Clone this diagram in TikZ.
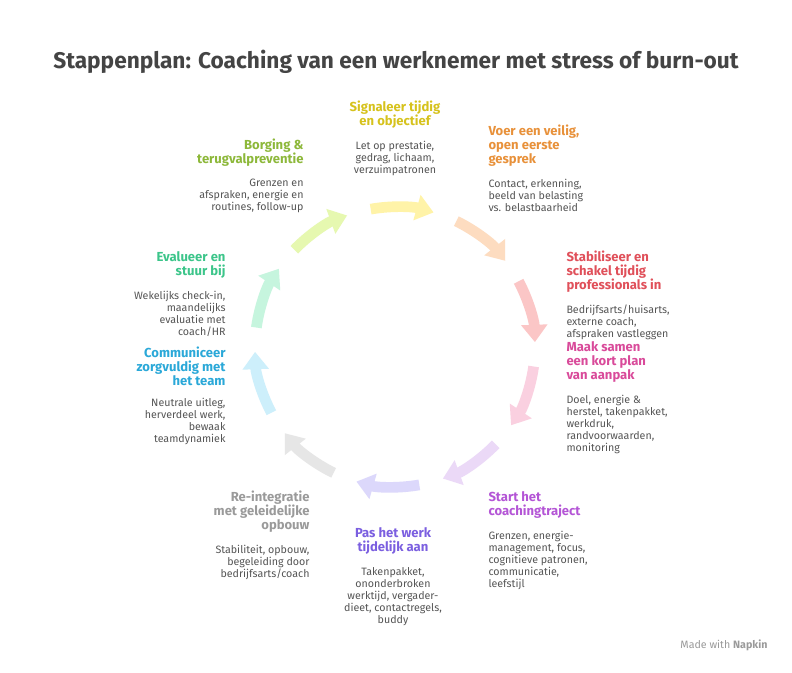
\documentclass[tikz,border=0pt]{standalone}
\usepackage{fontspec}
\setmainfont{Fira Sans}
\usetikzlibrary{positioning,arrows.meta,calc}
\definecolor{cYel}{HTML}{D6C21C}
\definecolor{cOra}{HTML}{E8913A}
\definecolor{cRed}{HTML}{E0505A}
\definecolor{cMag}{HTML}{D94A9A}
\definecolor{cPur}{HTML}{B455D6}
\definecolor{cVio}{HTML}{7B5FE0}
\definecolor{cGry}{HTML}{9A9A9A}
\definecolor{cBlu}{HTML}{2AA8D8}
\definecolor{cGrn}{HTML}{3CC58A}
\definecolor{cLim}{HTML}{8DB83A}
\definecolor{cTxt}{HTML}{555555}
\tikzset{every picture/.style={line width=0.75pt}}
\tikzset{
  head/.style={inner sep=0pt,font=\bfseries\fontsize{9.8}{10.6}\selectfont},
  body/.style={inner sep=0pt,text=cTxt,font=\fontsize{8}{9}\selectfont},
  ring/.style={line width=8pt,-{Triangle[length=13pt,width=19pt]}},
}
\begin{document}
\begin{tikzpicture}[x=0.75pt,y=0.75pt,yscale=-1,xscale=1]
\useasboundingbox (0,0) rectangle (792,672);
\fill[white] (0,0) rectangle (792,672);

% Title
\node (title) at (396,62) [text=cTxt!80!black,font=\bfseries\fontsize{17}{19}\selectfont] {Stappenplan: Coaching van een werknemer met stress of burn-out};

% ring of arrows
\coordinate (mid) at (395,347);
\foreach \s/\c in {100/FFF3A8,64/FDDCC0,28/FBC6C6,-8/FAD0E0,-44/EBD9F7,-80/DCD8FB,-116/E6E6E6,-152/CDEFFB,172/C6F5DE,136/E6F8B0}{
  \definecolor{tmp}{HTML}{\c}
  \draw[ring,tmp] ($(mid)+({140*cos(\s)},{-140*sin(\s)})$) arc[start angle=-\s,delta angle=26,radius=140];
}

% Text Node
\node (h1) [head,text=cYel,align=center,anchor=north] at (395,100) {Signaleer tijdig\\en objectief};
\node (b1) [body,align=center,below=9pt of h1] {Let op prestatie,\\gedrag, lichaam,\\verzuimpatronen};
% Text Node
\node (h2) [head,text=cOra,align=left,anchor=north west] at (488,124) {Voer een veilig,\\open eerste\\gesprek};
\node (b2) [body,align=left,below=9pt of h2.south west,anchor=north west] {Contact, erkenning,\\beeld van belasting\\vs. belastbaarheid};
% Text Node
\node (h3) [head,text=cRed,align=left,anchor=north west] at (566,250) {Stabiliseer en\\schakel tijdig\\professionals in};
\node (b3) [body,align=left,below=9pt of h3.south west,anchor=north west] {Bedrijfsarts/huisarts,\\externe coach,\\afspraken vastleggen};
% Text Node
\node (h4) [head,text=cMag,align=left,anchor=north west] at (566,341) {Maak samen\\een kort plan\\van aanpak};
\node (b4) [body,align=left,below=9pt of h4.south west,anchor=north west] {Doel, energie \&\\herstel, takenpakket,\\werkdruk,\\randvoorwaarden,\\monitoring};
% Text Node
\node (h5) [head,text=cPur,align=left,anchor=north west] at (488,491) {Start het\\coachingtraject};
\node (b5) [body,align=left,below=9pt of h5.south west,anchor=north west] {Grenzen, energie-\\management, focus,\\cognitieve patronen,\\communicatie,\\leefstijl};
% Text Node
\node (h6) [head,text=cVio,align=center,anchor=north] at (393,527) {Pas het werk\\tijdelijk aan};
\node (b6) [body,align=center,below=9pt of h6] {Takenpakket,\\ononderbroken\\werktijd, vergader-\\dieet, contactregels,\\buddy};
% Text Node
\node (h7) [head,text=cGry,align=right,anchor=north east] at (310,490) {Re-integratie\\met geleidelijke\\opbouw};
\node (b7) [body,align=right,below=9pt of h7.south east,anchor=north east] {Stabiliteit, opbouw,\\begeleiding door\\bedrijfsarts/coach};
% Text Node
\node (h8) [head,text=cBlu,align=right,anchor=north east] at (226,346) {Communiceer\\zorgvuldig met\\het team};
\node (b8) [body,align=right,below=9pt of h8.south east,anchor=north east] {Neutrale uitleg,\\herverdeel werk,\\bewaak\\teamdynamiek};
% Text Node
\node (h9) [head,text=cGrn,align=right,anchor=north east] at (226,251) {Evalueer en\\stuur bij};
\node (b9) [body,align=right,below=9pt of h9.south east,anchor=north east] {Wekelijks check-in,\\maandelijks\\evaluatie met\\coach/HR};
% Text Node
\node (h10) [head,text=cLim,align=right,anchor=north east] at (304,138) {Borging \&\\terugvalpreventie};
\node (b10) [body,align=right,below=9pt of h10.south east,anchor=north east] {Grenzen en\\afspraken, energie en\\routines, follow-up};

% Text Node
\node (made) [body,text=cGry,anchor=east] at (768,645) {Made with \textbf{Napkin}};
\end{tikzpicture}
\end{document}
